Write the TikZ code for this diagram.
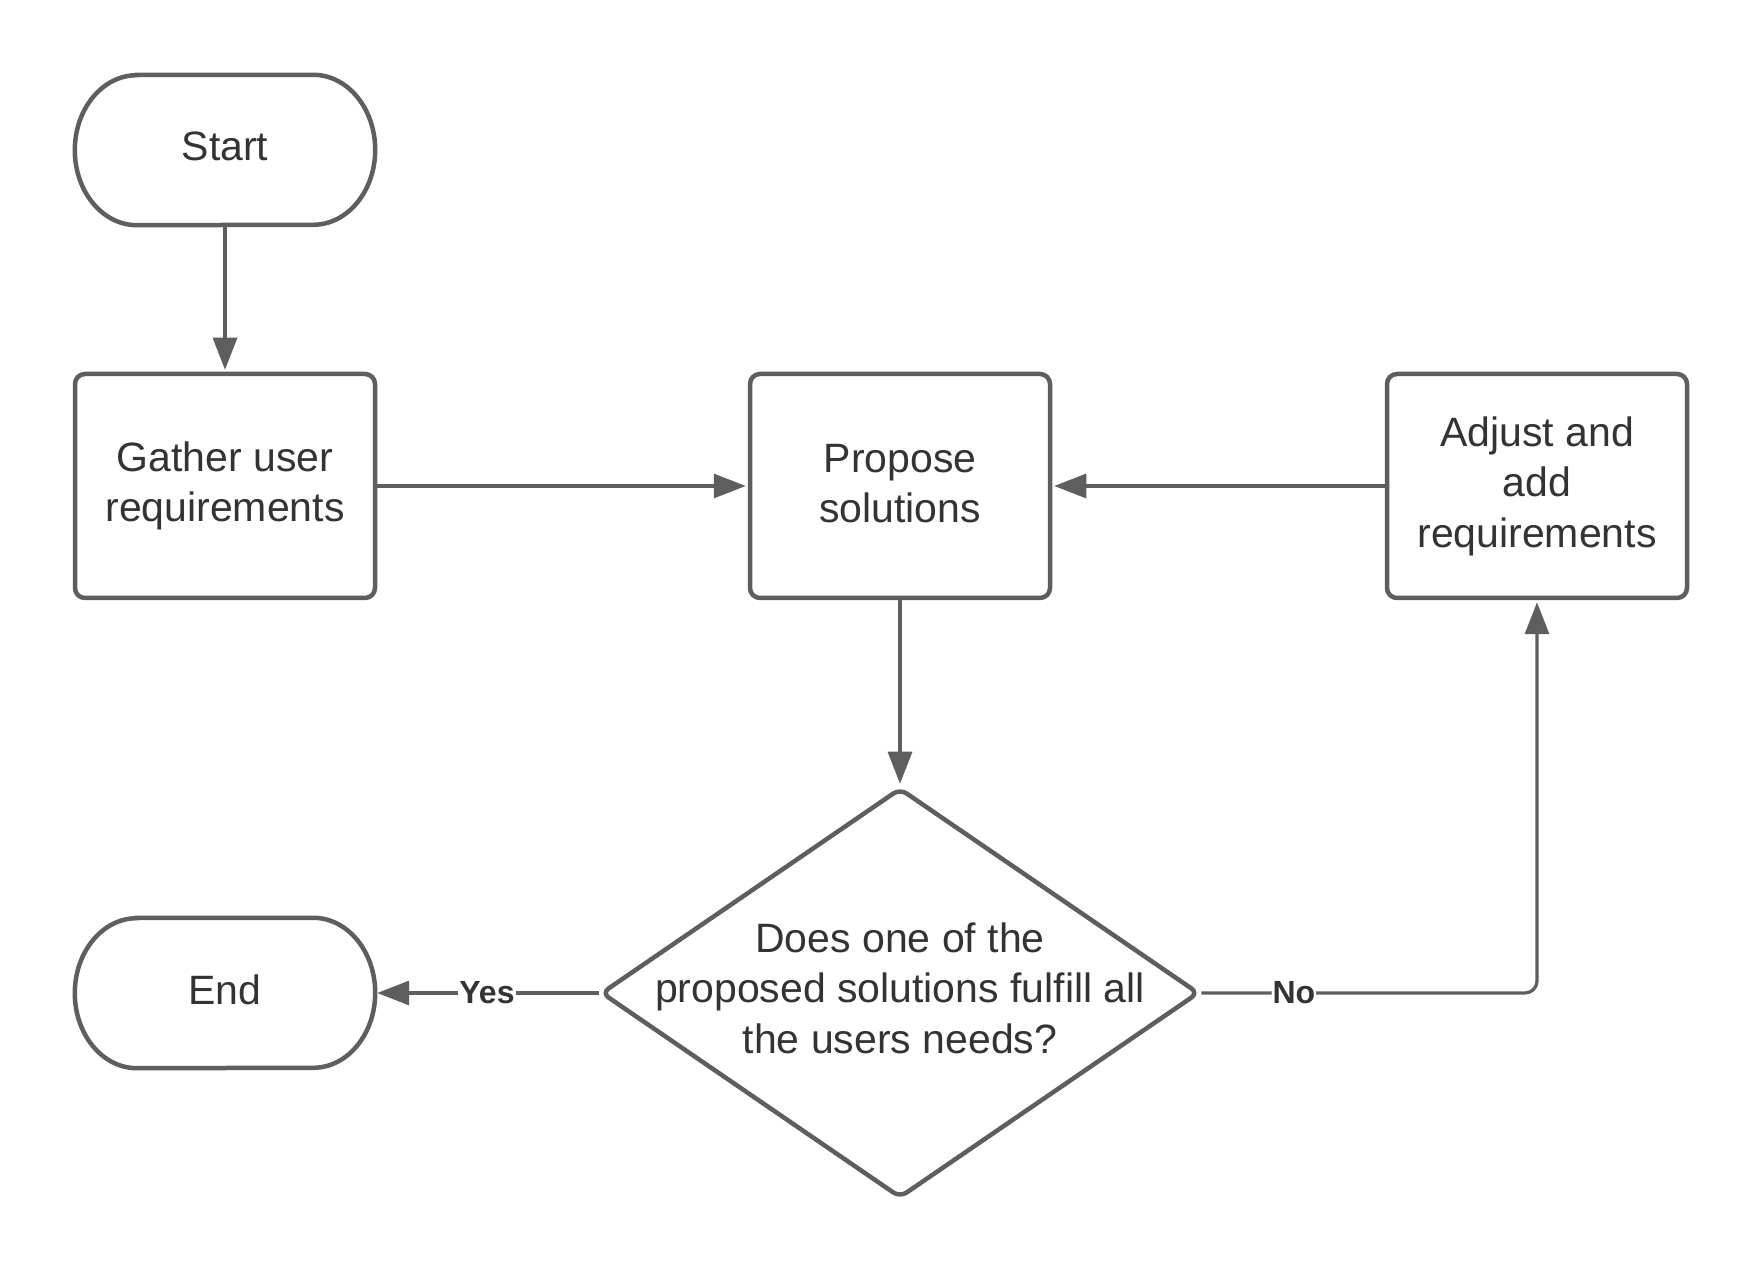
\documentclass[tikz,border=0pt]{standalone}
\usepackage{fontspec}
\setmainfont{Liberation Sans}
\usetikzlibrary{arrows.meta,shapes.geometric,calc}
\definecolor{linegray}{HTML}{5E5E5E}
\definecolor{textgray}{HTML}{333333}
\tikzset{
  box/.style={draw=linegray, line width=4.5pt, rounded corners=10pt, minimum width=300pt, minimum height=224pt, align=center, text=textgray, font=\fontsize{41}{50.5}\selectfont, inner sep=0pt},
  termtext/.style={minimum width=300pt, minimum height=150pt, text=textgray, font=\fontsize{41}{50.5}\selectfont, inner sep=0pt},
  termline/.style={draw=linegray, line width=4.5pt},
  decision/.style={diamond, draw=linegray, line width=4.5pt, rounded corners=8pt, minimum width=598pt, minimum height=410pt, inner sep=0pt},
  dectext/.style={align=center, text=textgray, font=\fontsize{41}{50.5}\selectfont},
  conn/.style={draw=linegray, line width=3.2pt, -{Triangle[length=32pt,width=24pt]}, shorten >=2pt},
  lbl/.style={fill=white, text=textgray, font=\fontsize{32}{36}\bfseries\selectfont, inner sep=1pt}
}
\begin{document}
\begin{tikzpicture}[x=1pt,y=1pt]
\useasboundingbox[fill=white] (0,0) rectangle (1763,1275);
% Start terminal
\node[termtext] (start) at (225,1125) {\raisebox{8pt}{Start}};
\draw[termline] ($(start.north west)+(62,0)$) -- ($(start.north east)+(-62,0)$)
  arc[start angle=90, end angle=-90, x radius=62pt, y radius=75pt]
  -- ($(start.south west)+(62,0)$)
  arc[start angle=270, end angle=90, x radius=62pt, y radius=75pt] -- cycle;
% End terminal
\node[termtext] (end) at (225,282) {\raisebox{6pt}{End}};
\draw[termline] ($(end.north west)+(62,0)$) -- ($(end.north east)+(-62,0)$)
  arc[start angle=90, end angle=-90, x radius=62pt, y radius=75pt]
  -- ($(end.south west)+(62,0)$)
  arc[start angle=270, end angle=90, x radius=62pt, y radius=75pt] -- cycle;
% Process boxes
\node[box] (gather) at (225,789) {Gather user\\requirements};
\node[box] (propose) at (900,789) {\raisebox{5pt}{Propose}\\\raisebox{5pt}{solutions}};
\node[box] (adjust) at (1537,789) {Adjust and\\add\\requirements};
% Decision
\node[decision] (dec) at (900,282) {};
\node[dectext] (dect) at (900,287) {Does one of the\\proposed solutions fulfill all\\the users needs?};
% Connectors
\draw[conn] (start.south) -- (gather.north);
\draw[conn] (gather.east) -- (propose.west);
\draw[conn] (adjust.west) -- (propose.east);
\draw[conn] (propose.south) -- (dec.north);
\draw[conn] (dec.west) -- node[lbl, pos=0.5] (yes) {Yes} (end.east);
\draw[conn, rounded corners=12pt] (dec.east) -| node[lbl, pos=0.138] (no) {No} (adjust.south);
\end{tikzpicture}
\end{document}
